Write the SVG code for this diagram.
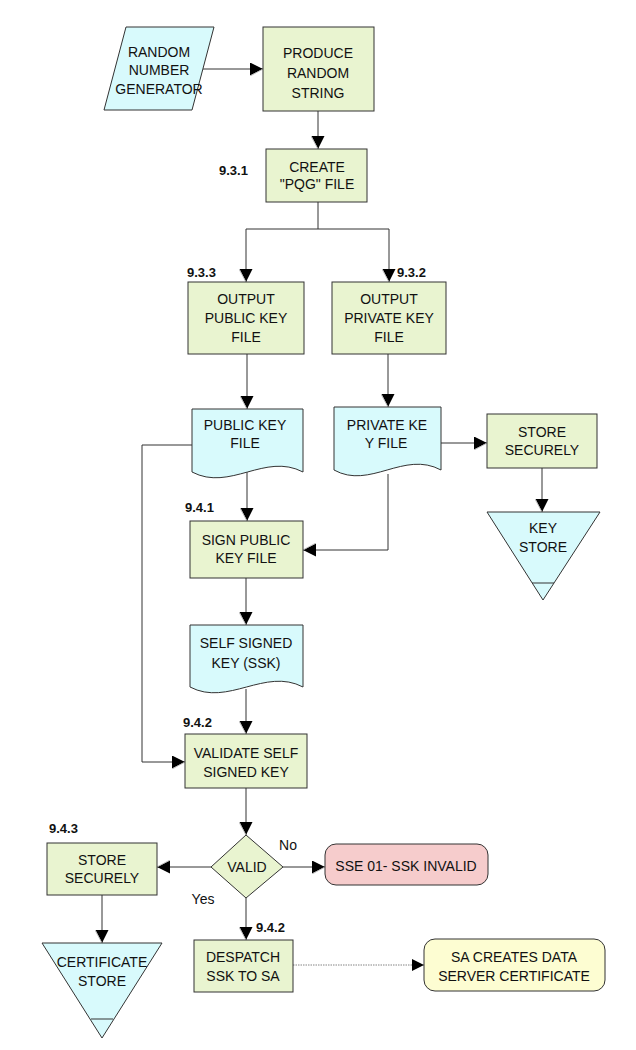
<svg xmlns="http://www.w3.org/2000/svg" width="636" height="1050" viewBox="0 0 636 1050">
<defs>
<style>
text{font-family:"Liberation Sans",Arial,sans-serif;font-size:14px;fill:#111;text-anchor:middle}
.lbl{font-size:13px;font-weight:bold;text-anchor:start}
.g{fill:#e9f4d0;stroke:#333;stroke-width:1}
.b{fill:#d8fafc;stroke:#333;stroke-width:1}
.r{fill:#f6cccc;stroke:#333;stroke-width:1}
.y{fill:#fdfdd2;stroke:#333;stroke-width:1}
.c{fill:none;stroke:#333;stroke-width:1}
.d{fill:none;stroke:#666;stroke-width:0.8;stroke-dasharray:1.5 1}
</style>
<marker id="ah" markerUnits="userSpaceOnUse" markerWidth="14" markerHeight="14" refX="13" refY="6.5" orient="auto">
<path d="M0,0 L13,6.5 L0,13 Z" fill="#000"/>
<path d="M13,6.5 L1,13" stroke="#bbb" stroke-width="1" fill="none"/>
</marker>
</defs>
<rect width="636" height="1050" fill="#fff"/>

<g id="connectors">
<path class="c" d="M203,69 H263" marker-end="url(#ah)"/>
<path class="c" d="M318,111 V149" marker-end="url(#ah)"/>
<path class="c" d="M318,202 V229 M246,229 H389 M246,229 V282" marker-end="url(#ah)"/>
<path class="c" d="M389,229 V282" marker-end="url(#ah)"/>
<path class="c" d="M247,354 V409" marker-end="url(#ah)"/>
<path class="c" d="M388,354 V407" marker-end="url(#ah)"/>
<path class="c" d="M247,472 V521" marker-end="url(#ah)"/>
<path class="c" d="M388,474 V550 H303" marker-end="url(#ah)"/>
<path class="c" d="M441,443 H487" marker-end="url(#ah)"/>
<path class="c" d="M542,468 V512" marker-end="url(#ah)"/>
<path class="c" d="M192,445 H142 V762 H185" marker-end="url(#ah)"/>
<path class="c" d="M246,578 V625" marker-end="url(#ah)"/>
<path class="c" d="M246,689 V734" marker-end="url(#ah)"/>
<path class="c" d="M246,788 V835" marker-end="url(#ah)"/>
<path class="c" d="M283,867 H325" marker-end="url(#ah)"/>
<path class="c" d="M211,867 H157" marker-end="url(#ah)"/>
<path class="c" d="M102,895 V943" marker-end="url(#ah)"/>
<path class="c" d="M246,898 V940" marker-end="url(#ah)"/>
<path class="d" d="M293,965 H424"/>
<path d="M412,959 L424,965 L412,971 Z" fill="#000"/>
</g>

<g id="rng">
<polygon class="b" points="126,27 214,27 192,110 104,110"/>
<text x="159" y="57">RANDOM</text>
<text x="159" y="75">NUMBER</text>
<text x="159" y="94">GENERATOR</text>
</g>

<g id="produce">
<rect class="g" x="263" y="27" width="111" height="84"/>
<text x="318" y="58">PRODUCE</text>
<text x="318" y="78">RANDOM</text>
<text x="318" y="98">STRING</text>
</g>

<g id="create">
<rect class="g" x="266" y="149" width="101" height="53"/>
<text x="317" y="172">CREATE</text>
<text x="317" y="189">"PQG" FILE</text>
<text class="lbl" x="219" y="175">9.3.1</text>
</g>

<g id="outpub">
<rect class="g" x="188" y="282" width="116" height="72"/>
<text x="246" y="304">OUTPUT</text>
<text x="246" y="323">PUBLIC KEY</text>
<text x="246" y="342">FILE</text>
<text class="lbl" x="187" y="277">9.3.3</text>
</g>

<g id="outpriv">
<rect class="g" x="332" y="282" width="114" height="72"/>
<text x="389" y="304">OUTPUT</text>
<text x="389" y="323">PRIVATE KEY</text>
<text x="389" y="342">FILE</text>
<text class="lbl" x="397" y="277">9.3.2</text>
</g>

<g id="pubdoc">
<path class="b" d="M192,409 H303 V472 C265,452 230,492 192,472 Z"/>
<text x="245" y="430">PUBLIC KEY</text>
<text x="245" y="448">FILE</text>
</g>

<g id="privdoc">
<path class="b" d="M334,407 H441 V470 C404,450 370,490 334,470 Z"/>
<text x="387" y="430">PRIVATE  KE</text>
<text x="386" y="448">Y FILE</text>
</g>

<g id="storekey">
<rect class="g" x="487" y="414" width="110" height="54"/>
<text x="542" y="437">STORE</text>
<text x="542" y="455">SECURELY</text>
</g>

<g id="keystore">
<polygon class="b" points="487,512 600,512 543,600"/>
<path class="c" d="M532,583 H554"/>
<text x="543" y="533">KEY</text>
<text x="543" y="552">STORE</text>
</g>

<g id="sign">
<rect class="g" x="190" y="521" width="113" height="57"/>
<text x="246" y="545">SIGN PUBLIC</text>
<text x="246" y="563">KEY FILE</text>
<text class="lbl" x="185" y="512">9.4.1</text>
</g>

<g id="ssk">
<path class="b" d="M190,625 H303 V687 C265,667 228,707 190,687 Z"/>
<text x="246" y="648">SELF SIGNED</text>
<text x="246" y="668">KEY (SSK)</text>
</g>

<g id="validate">
<rect class="g" x="185" y="734" width="122" height="54"/>
<text x="246" y="758">VALIDATE SELF</text>
<text x="246" y="777">SIGNED KEY</text>
<text class="lbl" x="183" y="727">9.4.2</text>
</g>

<g id="valid">
<polygon class="g" points="246,835 283,867 246,898 211,867"/>
<text x="247" y="872">VALID</text>
<text x="288" y="850">No</text>
<text x="203" y="904">Yes</text>
</g>

<g id="sse">
<rect class="r" x="325" y="844" width="163" height="41" rx="11"/>
<text x="406" y="871">SSE 01- SSK INVALID</text>
</g>

<g id="storecert">
<rect class="g" x="47" y="843" width="110" height="52"/>
<text x="102" y="865">STORE</text>
<text x="102" y="883">SECURELY</text>
<text class="lbl" x="49" y="833">9.4.3</text>
</g>

<g id="certstore">
<polygon class="b" points="42,943 162,943 102,1038"/>
<path class="c" d="M91,1019 H113"/>
<text x="102" y="967">CERTIFICATE</text>
<text x="102" y="986">STORE</text>
</g>

<g id="despatch">
<rect class="g" x="194" y="940" width="99" height="52"/>
<text x="243" y="962">DESPATCH</text>
<text x="243" y="981">SSK TO SA</text>
<text class="lbl" x="256" y="932">9.4.2</text>
</g>

<g id="sacreates">
<rect class="y" x="424" y="939" width="181" height="52" rx="11"/>
<text x="514" y="962">SA CREATES DATA</text>
<text x="514" y="981">SERVER CERTIFICATE</text>
</g>
</svg>
